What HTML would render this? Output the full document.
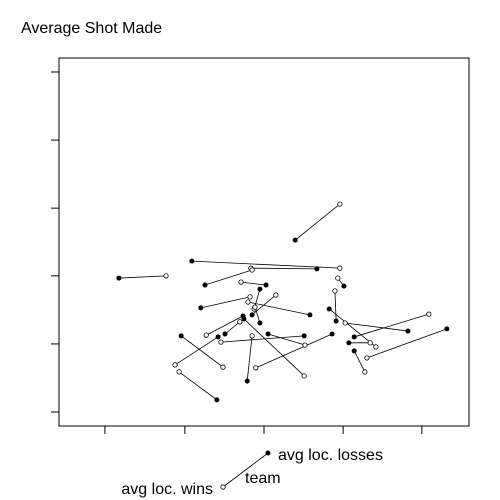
<!DOCTYPE html>
<html><head><meta charset="utf-8"><style>
body{margin:0;background:#fff;}
svg{display:block;font-family:"Liberation Sans",Arial,sans-serif;}
</style></head><body>
<svg id="chart" width="500" height="500">
<text x="21" y="33" font-size="16">Average Shot Made</text>
<rect x="59" y="58" width="410" height="368" fill="none" stroke="#000" stroke-width="1"/>
<g id="axes"></g>
<g id="marks"></g>
<g>
<line x1="223" y1="487" x2="268" y2="453" stroke="#000" stroke-width="0.8"/>
<circle cx="268" cy="453" r="2.5" fill="#000"/>
<circle cx="223" cy="487" r="2.2" fill="#fff" stroke="#000" stroke-width="0.8"/>
<text x="278" y="460" font-size="16">avg loc. losses</text>
<text x="245" y="483" font-size="16">team</text>
<text x="213" y="494" font-size="16" text-anchor="end">avg loc. wins</text>
</g>
</svg>
<script>
const lossX=[57.6,14.6,32.4,62.9,35.6,50.5,69.5,67.6,34.6,61.2,49.0,49.0,47.1,44.9,45.1,40.5,29.8,38.8,38.5,59.8,45.9,66.6,51.0,65.9,85.1,72.0,70.7,72.0,94.6];
const lossY=[50.5,40.2,44.8,42.7,38.3,38.3,38.0,28.5,32.1,30.2,37.2,28.0,30.2,29.9,29.1,25.0,24.5,24.2,7.1,24.5,12.2,25.0,25.0,31.8,25.8,24.2,22.6,20.4,26.4];
const winX=[68.5,26.1,68.5,46.8,47.1,44.4,68.0,67.3,46.6,46.1,47.6,47.8,52.9,35.9,59.8,44.1,40.0,28.3,29.3,39.5,47.1,48.0,60.0,77.3,69.8,90.2,75.9,74.6,75.1];
const winY=[60.3,40.8,42.9,42.9,42.4,39.1,40.2,36.7,35.1,33.7,31.8,32.3,35.6,24.7,13.6,28.3,16.0,16.6,14.7,22.8,24.5,15.8,22.0,21.5,28.0,30.4,22.6,14.7,18.5];
const xTicks=[11.2,30.7,50.0,69.3,88.5];
const yTicks=[3.8,22.3,40.8,59.2,77.7,96.2];
const NS="http://www.w3.org/2000/svg";
function xs(v){return 59+v*4.1;}
function ys(v){return 426-v*3.68;}
const axes=document.getElementById('axes'), marks=document.getElementById('marks');
function mk(tag,attrs,parent){const e=document.createElementNS(NS,tag);for(const k in attrs)e.setAttribute(k,attrs[k]);parent.appendChild(e);return e;}
xTicks.forEach(t=>{
 const l=mk('line',{x1:xs(t),x2:xs(t),y1:426,y2:434,stroke:'#000','stroke-width':1},axes);
 
 
});
yTicks.forEach(t=>{
 const l=mk('line',{x1:51,x2:59,y1:ys(t),y2:ys(t),stroke:'#000','stroke-width':1},axes);
 
 
});
for(let i=0;i<lossX.length;i++){
 const l=mk('line',{x1:xs(lossX[i]),y1:ys(lossY[i]),x2:xs(winX[i]),y2:ys(winY[i]),stroke:'#000','stroke-width':0.8},marks);
 
 
}
for(let i=0;i<lossX.length;i++){
 const w=mk('circle',{cx:xs(winX[i]),cy:ys(winY[i]),r:2.2,fill:'#fff',stroke:'#000','stroke-width':0.8},marks);
 
 
 const p=mk('circle',{cx:xs(lossX[i]),cy:ys(lossY[i]),r:2.5,fill:'#000'},marks);
 
 
}
</script>
</body></html>
